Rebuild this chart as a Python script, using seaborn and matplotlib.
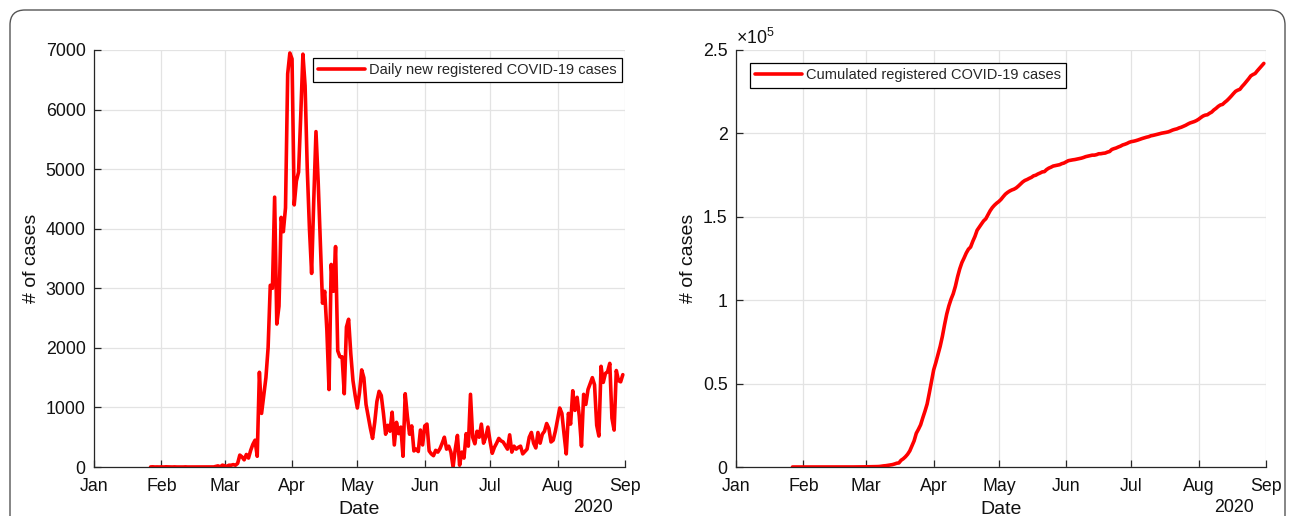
import numpy as np
import pandas as pd
import matplotlib
matplotlib.use("Agg")
import matplotlib.pyplot as plt
import matplotlib.dates as mdates
import seaborn as sns
from matplotlib.patches import FancyBboxPatch
from matplotlib.ticker import FuncFormatter

# ---------------- data (daily new registered cases) -------------
start_date = "2020-01-27"
jan_cases = [1, 3, 0, 1, 0]  # Jan 27 - Jan 31
feb_cases = [2, 0, 3, 2, 2, 0, 2, 0, 0, 1, 0, 2, 0, 0, 0, 0, 0, 0, 0, 0,
             0, 0, 0, 0, 1, 10, 19, 2, 31]
mar_cases = [20, 10, 30, 30, 40, 30, 60, 200, 170, 120, 210, 150, 280, 380, 450,
             180, 1590, 900, 1200, 1500, 2000, 3050, 3000, 4530, 2400, 2700,
             4190, 3950, 4350, 6600, 6950]
apr_cases = [6850, 4400, 4800, 4950, 5900, 6930, 6400, 5000, 4000, 3250, 4500,
             5630, 4800, 3800, 2750, 2950, 2300, 1300, 3400, 2950, 3700, 1950,
             1850, 1850, 1230, 2350, 2480, 1900, 1450, 1200]
may_cases = [990, 1250, 1630, 1500, 1050, 850, 650, 480, 750, 1100, 1270, 1200,
             900, 550, 700, 600, 920, 370, 750, 560, 670, 180, 1230, 850, 550,
             690, 270, 300, 260, 620, 370]
jun_cases = [690, 720, 270, 220, 190, 280, 250, 310, 400, 500, 300, 350, 250, 0,
             300, 530, 30, 250, 150, 560, 350, 1220, 500, 390, 600, 500, 720,
             400, 500, 670]
jul_cases = [430, 230, 330, 400, 480, 440, 420, 360, 300, 540, 250, 350, 300,
             330, 350, 220, 260, 300, 500, 580, 400, 320, 580, 400, 550, 600,
             730, 650, 420, 450, 600]
aug_cases = [800, 990, 900, 550, 220, 900, 720, 1280, 950, 1170, 850, 350, 1220,
             1050, 1300, 1400, 1500, 1380, 700, 520, 1690, 1420, 1570, 1600,
             1740, 820, 620, 1620, 1450, 1430, 1550]

month_labels = ["Jan", "Feb", "Mar", "Apr", "May", "Jun", "Jul", "Aug", "Sep"]
daily_label = "Daily new registered COVID-19 cases"
cum_label = "Cumulated registered COVID-19 cases"

daily = jan_cases + feb_cases + mar_cases + apr_cases + may_cases + jun_cases + jul_cases + aug_cases
dates = pd.date_range(start_date, periods=len(daily), freq="D")
df = pd.DataFrame({"Date": dates, "daily": daily})
df["cumulated"] = df["daily"].cumsum()

# ---------------- style ----------------
sns.set_theme(style="whitegrid")
plt.rcParams['font.family'] = ['Liberation Sans', 'DejaVu Sans']
plt.rcParams['mathtext.fontset'] = 'custom'
plt.rcParams['mathtext.rm'] = 'Liberation Sans'

W, H = 1293, 516
fig = plt.figure(figsize=(W / 100, H / 100), dpi=100)
fig.patch.set_facecolor("white")

ax1 = fig.add_axes([94 / W, 49 / H, 531 / W, 417 / H])
ax2 = fig.add_axes([736 / W, 49 / H, 530 / W, 417 / H])

sns.lineplot(data=df, x="Date", y="daily", ax=ax1, color="#ff0000", lw=2.6,
             label=daily_label)
sns.lineplot(data=df, x="Date", y="cumulated", ax=ax2, color="#ff0000", lw=2.6,
             label=cum_label)

TICK_FS = 12.8
LABEL_FS = 14
month_ticks = pd.date_range("2020-01-01", "2020-09-01", freq="MS")
for ax in (ax1, ax2):
    ax.set_facecolor("white")
    ax.set_xlim(month_ticks[0], month_ticks[-1])
    ax.set_xticks(month_ticks)
    ax.set_xticklabels(month_labels)
    ax.grid(True, color="#e3e3e3", lw=0.9)
    for s in ("top", "right"):
        ax.spines[s].set_visible(False)
    for s in ("left", "bottom"):
        ax.spines[s].set_visible(True)
        ax.spines[s].set_color("#262626")
        ax.spines[s].set_linewidth(0.9)
    ax.tick_params(axis="both", direction="in", length=5, width=0.9,
                   color="#262626", labelsize=TICK_FS, labelcolor="#111111",
                   left=True, bottom=True)
    ax.tick_params(axis="x", pad=8)
    ax.tick_params(axis="y", pad=6)
    ax.set_xlabel("Date", fontsize=LABEL_FS, labelpad=4, color="#111111")
    ax.set_ylabel("# of cases", fontsize=LABEL_FS, labelpad=4, color="#111111")
    ax.text(0.94, -0.098, "2020", transform=ax.transAxes, ha="center", va="center",
            fontsize=TICK_FS, color="#111111")

ax1.set_ylim(0, 7000)
ax1.set_yticks(np.arange(0, 7001, 1000))
ax2.set_ylim(0, 250000)
ax2.set_yticks(np.arange(0, 250001, 50000))
ax2.yaxis.set_major_formatter(FuncFormatter(lambda v, p: f"{v / 1e5:g}"))
ax2.text(0.0, 1.004, r"$\times10^{5}$", transform=ax2.transAxes, ha="left",
         va="bottom", fontsize=TICK_FS, color="#111111")

leg_kw = dict(fontsize=10.5, frameon=True, fancybox=False, framealpha=1,
              edgecolor="black", borderaxespad=0, handlelength=3.2,
              handletextpad=0.3, borderpad=0.35)
l1 = ax1.legend(loc="upper right", bbox_to_anchor=(0.9944, 0.981), **leg_kw)
l2 = ax2.legend(loc="upper left", bbox_to_anchor=(0.026, 0.968), **leg_kw)
for leg in (l1, l2):
    leg.get_frame().set_linewidth(0.9)
    for line in leg.get_lines():
        line.set_linewidth(2.6)

# rounded frame around the figure
frame = FancyBboxPatch((0.10, -0.3), 12.75, 5.36,
                       boxstyle="round,pad=0,rounding_size=0.15",
                       transform=fig.dpi_scale_trans, fill=False,
                       ec="#555555", lw=1.0, clip_on=False)
fig.patches.append(frame)

fig.savefig("out.png", dpi=100)
